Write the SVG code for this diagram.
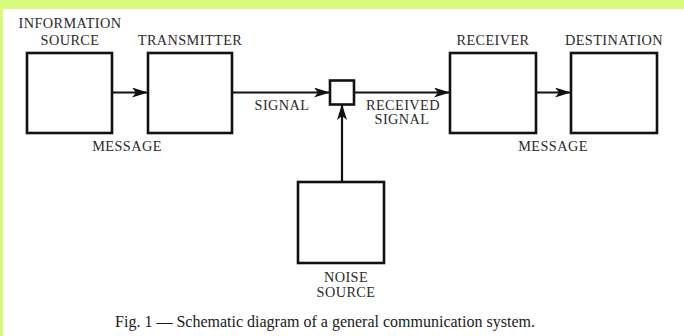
<svg xmlns="http://www.w3.org/2000/svg" width="684" height="336" viewBox="0 0 684 336">
  <defs>
    <style>
      .box { fill: #ffffff; stroke: #111111; stroke-width: 2.6; }
      .wire { fill: none; stroke: #111111; stroke-width: 2.2; }
      .lbl { font-family: "Liberation Serif", "Times New Roman", serif; font-size: 14.3px; letter-spacing: 0.4px; fill: #2a2a2a; text-anchor: middle; }
      .cap { font-family: "Liberation Serif", "Times New Roman", serif; font-size: 16px; fill: #1a1a1a; text-anchor: middle; }
    </style>
    <marker id="head" viewBox="0 0 16 10" refX="16" refY="5" markerWidth="16" markerHeight="10" markerUnits="userSpaceOnUse" orient="auto">
      <path d="M0,0 L16,5 L0,10 L4,5 z" fill="#111111"/>
    </marker>
  </defs>

  <!-- page background with tinted margin -->
  <rect x="0" y="0" width="684" height="336" fill="#d8fa7c"/>
  <rect x="3" y="9" width="681" height="327" fill="#ffffff"/>

  <!-- connectors -->
  <g id="connectors">
    <line class="wire" x1="112" y1="92.5" x2="148" y2="92.5" marker-end="url(#head)"/>
    <line class="wire" x1="232" y1="92.5" x2="330" y2="92.5" marker-end="url(#head)"/>
    <line class="wire" x1="354" y1="92.5" x2="450" y2="92.5" marker-end="url(#head)"/>
    <line class="wire" x1="536" y1="92.5" x2="571" y2="92.5" marker-end="url(#head)"/>
    <line class="wire" x1="342" y1="182" x2="342" y2="104" marker-end="url(#head)"/>
  </g>

  <g id="information-source">
    <rect class="box" x="27" y="53" width="85" height="80"/>
    <text class="lbl" x="70" y="28">INFORMATION</text>
    <text class="lbl" x="70" y="45">SOURCE</text>
  </g>

  <g id="transmitter">
    <rect class="box" x="148" y="53" width="84" height="80"/>
    <text class="lbl" x="190" y="45">TRANSMITTER</text>
  </g>

  <g id="mixer">
    <rect class="box" x="330" y="80.5" width="24" height="24"/>
  </g>

  <g id="receiver">
    <rect class="box" x="450" y="53" width="86" height="80"/>
    <text class="lbl" x="493" y="45">RECEIVER</text>
  </g>

  <g id="destination">
    <rect class="box" x="571" y="53" width="86" height="80"/>
    <text class="lbl" x="614" y="45">DESTINATION</text>
  </g>

  <g id="noise-source">
    <rect class="box" x="298" y="182" width="86" height="81"/>
    <text class="lbl" x="346" y="282">NOISE</text>
    <text class="lbl" x="346" y="297">SOURCE</text>
  </g>

  <!-- connector labels -->
  <g id="connector-labels">
    <text class="lbl" x="127" y="151">MESSAGE</text>
    <text class="lbl" x="282" y="110">SIGNAL</text>
    <text class="lbl" x="403" y="110">RECEIVED</text>
    <text class="lbl" x="402" y="123.5">SIGNAL</text>
    <text class="lbl" x="553" y="151">MESSAGE</text>
  </g>

  <text class="cap" x="325" y="327">Fig. 1 — Schematic diagram of a general communication system.</text>
</svg>
